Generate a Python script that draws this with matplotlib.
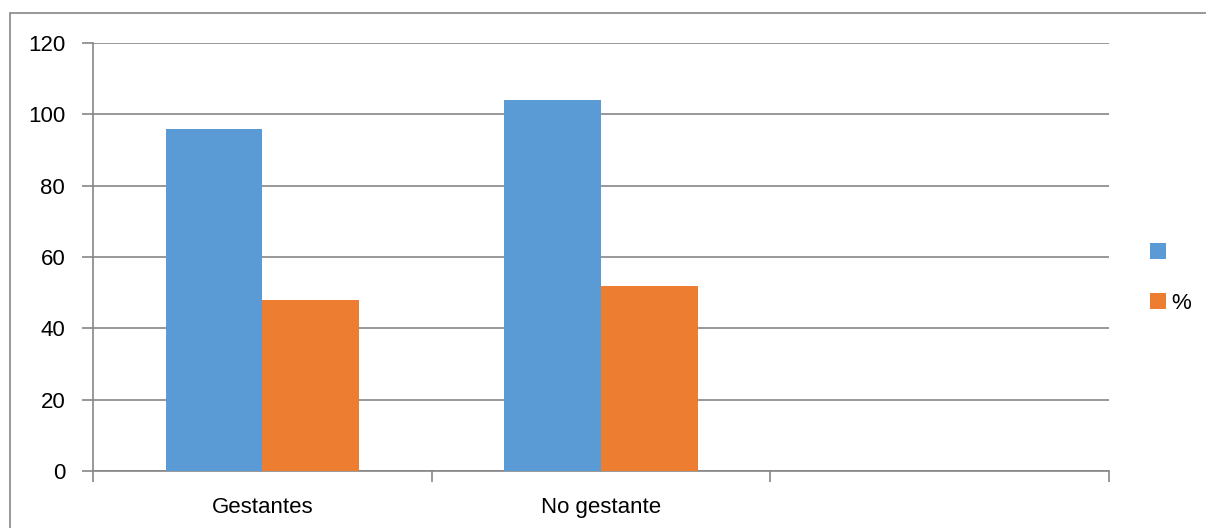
import matplotlib.pyplot as plt
import numpy as np
from matplotlib.patches import Rectangle

plt.rcParams['font.family'] = ['Liberation Sans', 'DejaVu Sans']

categorias = ['Gestantes', 'No gestante', '']
casos = [96, 104, np.nan]
porcentaje = [48, 52, np.nan]
y_ticks = [0, 20, 40, 60, 80, 100, 120]

azul = '#5b9bd5'
naranja = '#ed7d31'
gris = '#868686'

fig = plt.figure(figsize=(12.06, 5.28), dpi=100)
ax = fig.add_axes([93 / 1206, 57 / 528, 1016 / 1206, 428 / 528])

x = np.arange(len(categorias))
w = 1 / 3.5
ax.bar(x - w / 2, casos, width=w, color=azul, label=' ', zorder=3)
ax.bar(x + w / 2, porcentaje, width=w, color=naranja, label='%', zorder=3)

ax.set_xlim(-0.5, 2.5)
ax.set_ylim(0, 120)
ax.set_yticks(y_ticks)
ax.yaxis.grid(True, color=gris, linewidth=1.2, zorder=0)
ax.tick_params(axis='y', length=8, color=gris, width=1.2, labelsize=16, pad=12)

# etiquetas de categoria centradas, ticks en los bordes
ax.set_xticks(x)
ax.set_xticklabels(categorias, fontsize=16)
ax.tick_params(axis='x', length=0, pad=19)
ax.set_xticks([-0.5, 0.5, 1.5, 2.5], minor=True)
ax.tick_params(axis='x', which='minor', length=8, color=gris, width=1.2)

for s in ['top', 'right']:
    ax.spines[s].set_visible(False)
for s in ['left', 'bottom']:
    ax.spines[s].set_color(gris)
    ax.spines[s].set_linewidth(1.2)

ax.legend(loc='center left', bbox_to_anchor=(1.032, 0.45), frameon=False,
          fontsize=16, handlelength=0.7, handleheight=0.7,
          handletextpad=0.25, labelspacing=1.3, borderaxespad=0)

# marco exterior del grafico
fig.patches.append(Rectangle((10 / 1206, -0.05), 1.1, 1 - 13 / 528 + 0.05,
                             transform=fig.transFigure, fill=False,
                             edgecolor=gris, linewidth=1.2))

fig.savefig('out.png', dpi=100)
